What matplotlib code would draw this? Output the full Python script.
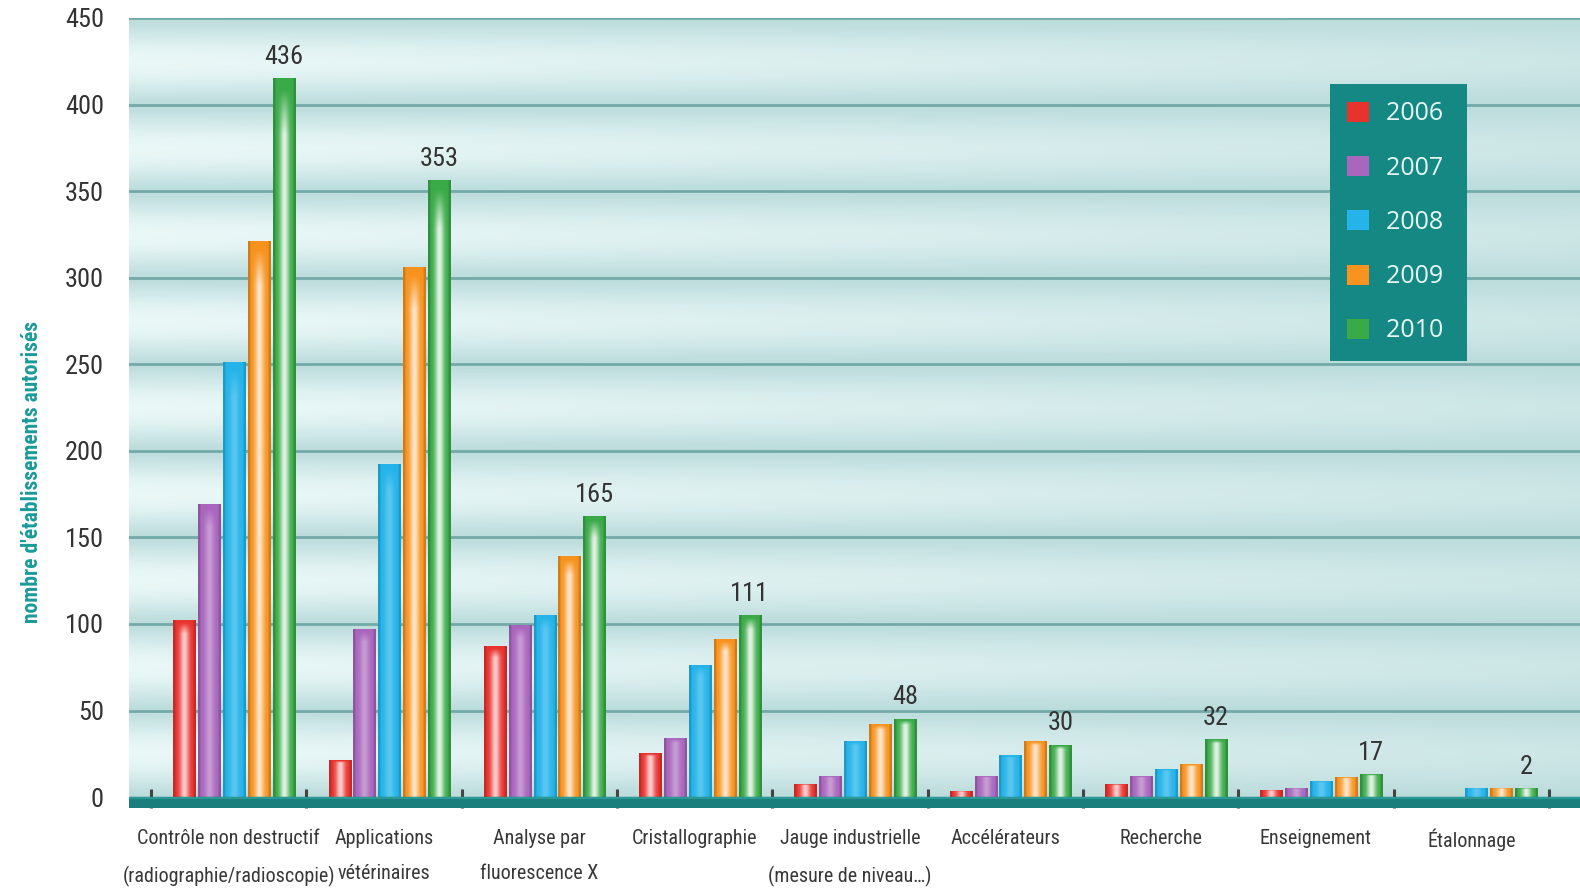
import numpy as np
import matplotlib
matplotlib.use("Agg")
import matplotlib.pyplot as plt
from matplotlib import font_manager
from matplotlib.font_manager import FontProperties
from matplotlib.patches import Patch
from matplotlib.colors import to_rgb

categories = [
    "Contrôle non destructif\n(radiographie/radioscopie)",
    "Applications\nvétérinaires",
    "Analyse par\nfluorescence X",
    "Cristallographie",
    "Jauge industrielle\n(mesure de niveau…)",
    "Accélérateurs",
    "Recherche",
    "Enseignement",
    "Étalonnage",
]
years = ["2006", "2007", "2008", "2009", "2010"]

v2006 = [102, 21, 87, 25, 7, 3, 7, 4, 0]
v2007 = [169, 97, 99, 34, 12, 12, 12, 5, 0]
v2008 = [251, 192, 105, 76, 32, 24, 16, 9, 5]
v2009 = [321, 306, 139, 91, 42, 32, 19, 11, 5]
v2010 = [415, 356, 162, 105, 45, 30, 33, 13, 5]
labels_2010 = ["436", "353", "165", "111", "48", "30", "32", "17", "2"]

y_ticks = [0, 50, 100, 150, 200, 250, 300, 350, 400, 450]

series = [v2006, v2007, v2008, v2009, v2010]
colors = ["#e8322e", "#a966bd", "#25b4ea", "#f7931e", "#3aaa48"]
shine = [0.75, 0.35, 0.25, 0.75, 0.85]


# a condensed font file if one is installed
def pick(bold):
    wanted = (700, "bold") if bold else (400, "normal", "regular", "book")
    for name in ["Roboto Condensed", "Liberation Sans Narrow", "Open Sans Condensed",
                 "DejaVu Sans", "Noto Sans"]:
        for f in font_manager.fontManager.ttflist:
            narrow = "condensed" in str(f.stretch) or "Condensed" in f.fname or "Narrow" in f.fname
            if f.name == name and f.style == "normal" and narrow and f.weight in wanted:
                return f.fname
    return None


reg = pick(False)
bld = pick(True) or reg
if reg:
    fs_cat, fs_tick = 14.5, 19

    def fp(size, bold=False):
        return FontProperties(fname=bld if bold else reg, size=size)
else:
    fs_cat, fs_tick = 13, 17

    def fp(size, bold=False):
        return FontProperties(family="Roboto", size=size, weight="bold" if bold else "normal")

fig = plt.figure(figsize=(15.8, 8.91), dpi=100)
ax = fig.add_axes([129 / 1580, 1 - 808 / 891, 1 - 129 / 1580, 790 / 891])
xlim = (-0.642, 8.70)
ylim = (-6.3, 450)

# background: pale teal with light bands between grid lines
yy = np.linspace(ylim[0], ylim[1], 400)
xx = np.linspace(0, 1, 300)
band = np.sin(np.pi * np.clip((yy % 50) / 50, 0, 1)) ** 1.3
fade = 1 - 0.65 * xx
k = 0.85 * band[:, None] * fade[None, :]
base = np.array(to_rgb("#bcdcdc"))
white = np.array([0.95, 0.99, 0.99])
bg = base[None, None, :] + (white - base)[None, None, :] * k[:, :, None]
ax.imshow(bg, extent=[xlim[0], xlim[1], ylim[0], ylim[1]], origin="lower",
          aspect="auto", zorder=0, interpolation="bilinear")

for v in y_ticks[1:]:
    ax.axhline(v, color="#72aaa9", lw=2, zorder=0.5)
ax.axhspan(ylim[0], 0, color="#1a7f7c", zorder=3)
ax.axhline(-0.8, color="#2a9a96", lw=1.5, zorder=3.1)

x = np.arange(len(categories))
w = 0.143
step = 0.16
t = np.linspace(0, 1, 48)
for i, vals in enumerate(series):
    pos = x + (i - 2) * step + 0.034
    bars = ax.bar(pos, vals, width=w, color=colors[i], zorder=2)
    c = np.array(to_rgb(colors[i]))
    bump = np.exp(-((t - 0.5) / 0.2) ** 2) * shine[i]
    col = c[None, :] + (1 - c)[None, :] * bump[:, None]
    edge = (t < 0.09) | (t > 0.91)
    col[edge] = c * 0.85
    for b in bars:
        h = b.get_height()
        if h <= 0:
            continue
        rows = np.linspace(0, 1, 32)
        top = np.clip((1 - rows) / 0.06, 0, 1)[:, None, None]
        img = c[None, None, :] * (1 - top) + col[None, :, :] * top
        img[:, edge] = c * 0.85
        ax.imshow(img, extent=[b.get_x(), b.get_x() + w, 0, h], origin="lower",
                  aspect="auto", zorder=2.1, interpolation="bilinear")

# value labels on the 2010 bars
for xi, v, lab in zip(x + 2 * step + 0.034, v2010, labels_2010):
    ax.annotate(lab, (xi, v), xytext=(0, 7), textcoords="offset points",
                ha="center", va="bottom", color="#333333", fontproperties=fp(fs_tick))

ax.set_xlim(*xlim)
ax.set_ylim(*ylim)
for s in ax.spines.values():
    s.set_visible(False)

ax.set_yticks(y_ticks)
ax.set_yticklabels([str(v) for v in y_ticks], color="#333333", fontproperties=fp(fs_tick))
ax.tick_params(axis="y", length=0, pad=18)

ax.set_xticks(x)
ax.set_xticklabels(categories, color="#383838", linespacing=2.1, fontproperties=fp(fs_cat))
ax.set_xticks(np.arange(-0.5, 9, 1), minor=True)
ax.tick_params(axis="x", which="major", length=0, pad=15)
ax.tick_params(axis="x", which="minor", direction="in", length=14, width=2.2, color="#444444")

fig.text(32 / 1580, 0.47, "nombre d'établissements autorisés", rotation=90,
         ha="center", va="center", color="#1a9a9a", fontproperties=fp(15.5, bold=True))

handles = [Patch(facecolor=c, edgecolor="none") for c in colors]
leg = ax.legend(handles, [y + " " for y in years], loc="upper left",
                bbox_to_anchor=(0.8277, 0.9165),
                borderaxespad=0, frameon=True, facecolor="#168884", edgecolor="none",
                framealpha=1, fancybox=False, labelcolor="#e6f8f4",
                handlelength=0.85, handleheight=0.85, handletextpad=0.7,
                labelspacing=1.17, borderpad=0.7, prop={"family": "Open Sans", "size": 18})
leg.set_zorder(5)

fig.savefig("out.png", dpi=100)
